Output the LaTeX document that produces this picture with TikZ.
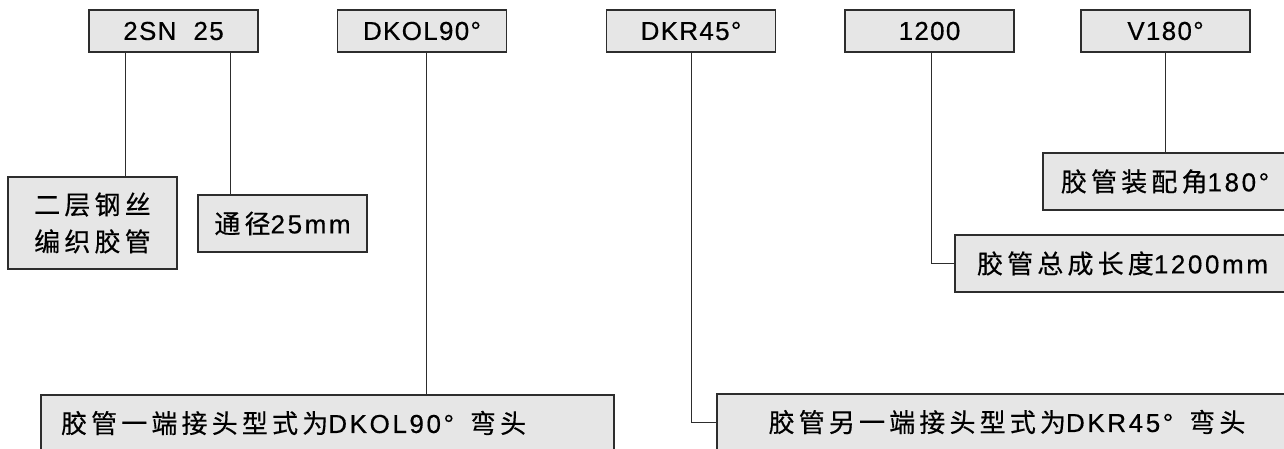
\documentclass[tikz,border=0pt]{standalone}
\usepackage{fontspec}
\setmainfont{Liberation Sans}[LetterSpace=5,FakeBold=0.4]
\newfontfamily\lat{Liberation Sans}[LetterSpace=10,FakeBold=0.4]
\newfontfamily\cjk{Noto Sans CJK SC}[LetterSpace=16,FakeBold=0.4]
\usetikzlibrary{calc,positioning}
\definecolor{boxgray}{RGB}{230,230,230}
\definecolor{edgegray}{RGB}{45,45,45}

\begin{document}
\begin{tikzpicture}[x=1pt,y=-1pt,tag/.style={draw=edgegray,fill=boxgray,line width=1.3pt,minimum width=169pt,minimum height=42pt,inner sep=0pt,font=\fontsize{26}{30}\selectfont},note/.style={draw=edgegray,fill=boxgray,line width=1.3pt,inner sep=0pt,font=\fontsize{26}{37}\selectfont\lat},lead/.style={line width=1pt,draw=edgegray}]
                  \clip (0,0) rectangle (1284,449);
                  \fill[white] (0,0) rectangle (1284,449);

                  \node[tag] (t1) at (173.5,31) {2SN~~25};
                  \node[tag] (t2) at (422,31) {DKOL90°};
                  \node[tag] (t3) at (691,31) {DKR45°};
                  \node[tag] (t4) at (929.5,31) {1200};
                  \node[tag] (t5) at (1165.5,31) {V180°};

                  \node[note,minimum width=169pt,minimum height=92pt,align=center] (n1) at (92.5,223) {\cjk 二层钢丝\\\cjk 编织胶管};
                  \node[note,minimum width=169pt,minimum height=57pt] (n2) at (282.5,223.5) {{\cjk 通径}25mm};
                  \node[note,minimum width=244pt,minimum height=57pt] (n3) at (1165,181.5) {{\cjk 胶管装配角}180°};
                  \node[note,minimum width=335pt,minimum height=57pt] (n4) at (1122.5,263.5) {{\cjk 胶管总成长度}1200mm};
                  \node[note,minimum width=573pt,minimum height=56pt,text width=533pt,inner xsep=20pt,align=left] (n5) at (327.5,423) {{\cjk 胶管一端接头型式为}DKOL90°\hspace{16pt}{\cjk 弯头}};
                  \node[note,minimum width=580pt,minimum height=56pt] (n6) at (1007,422) {{\cjk 胶管另一端接头型式为}DKR45°\hspace{16pt}{\cjk 弯头}};

                  \draw[lead] ([xshift=37pt]t1.south west) -- ([xshift=37pt]t1.south west |- n1.north);
                  \draw[lead] ([xshift=-28pt]t1.south east) -- ([xshift=-28pt]t1.south east |- n2.north);
                  \draw[lead] ([xshift=4pt]t2.south) -- ([xshift=4pt]t2.south |- n5.north);
                  \draw[lead] (t3.south) |- (n6.west);
                  \draw[lead] ([xshift=1.5pt]t4.south) |- (n4.west);
                  \draw[lead] (t5.south) -- (t5.south |- n3.north);
              \end{tikzpicture}
\end{document}
